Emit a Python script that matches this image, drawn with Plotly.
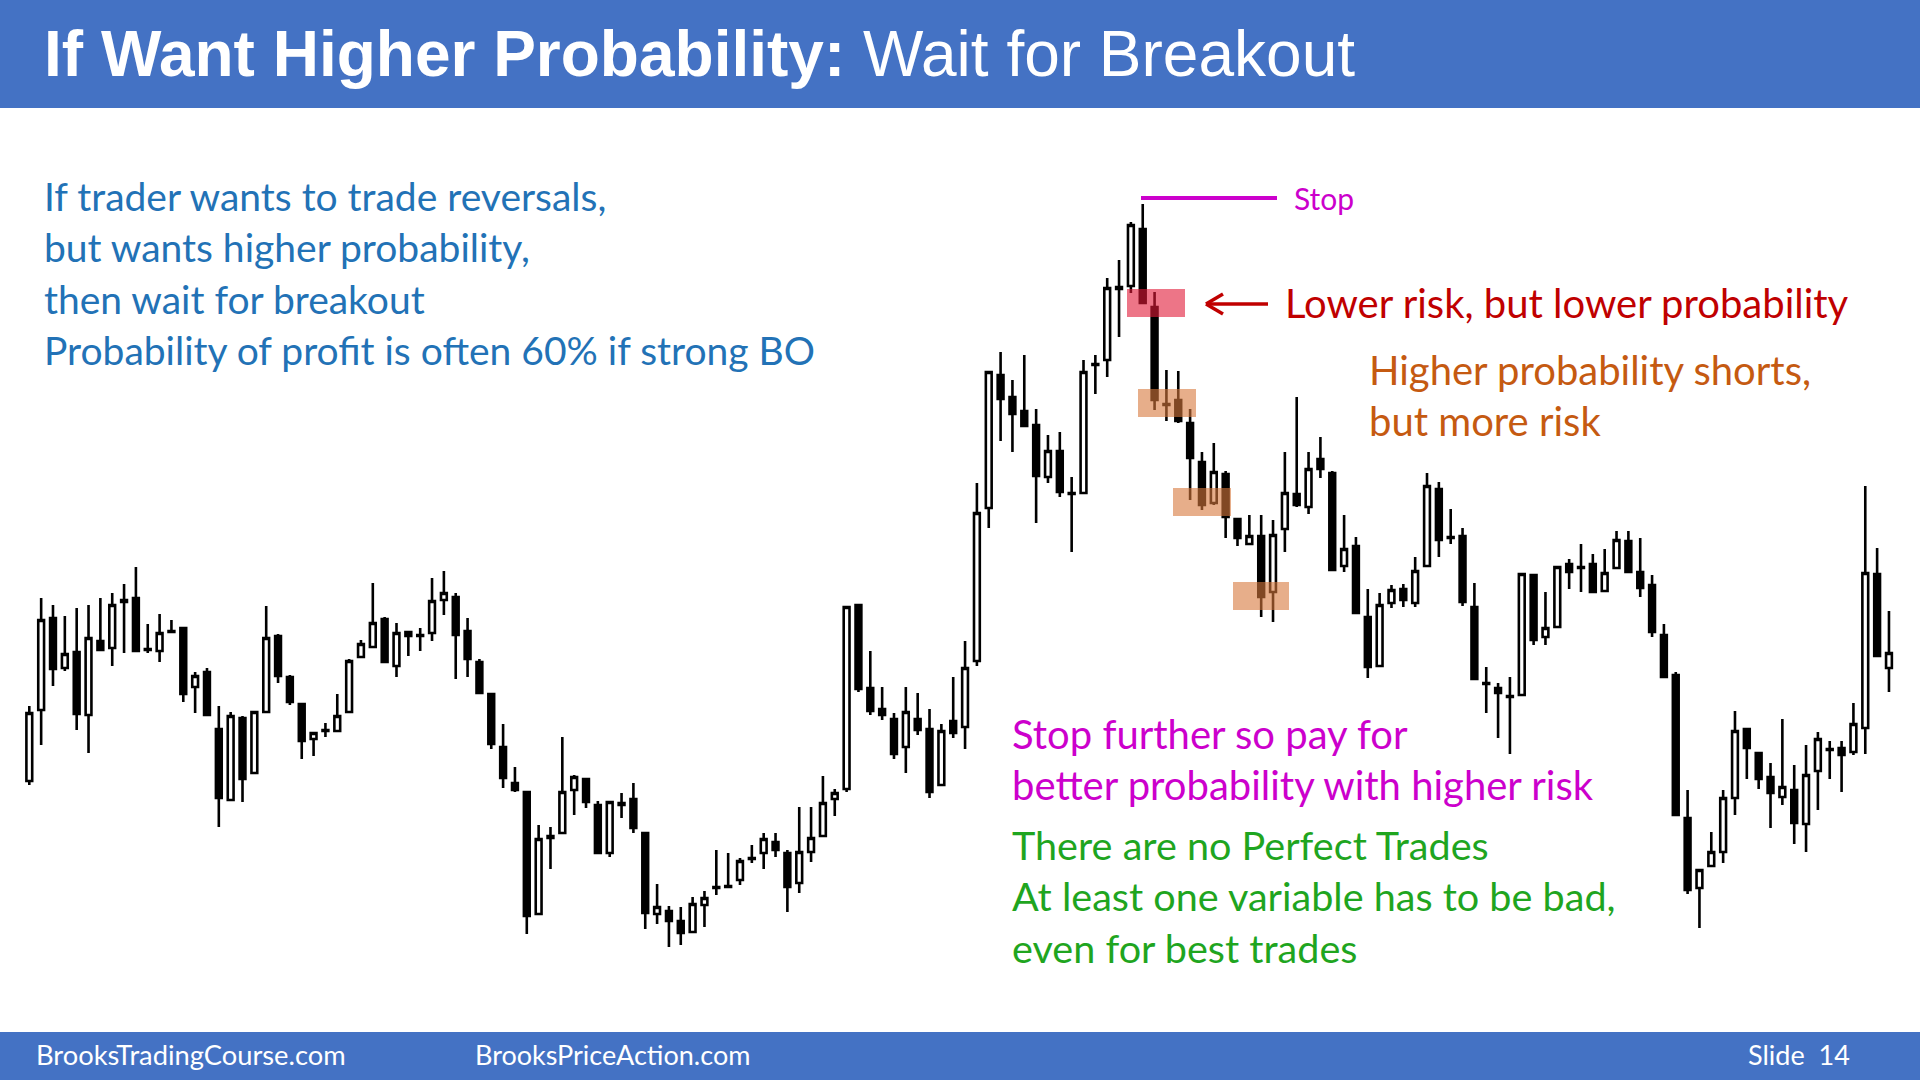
import plotly.graph_objects as go

# ---- candle data (index, open, high, low, close); price units arbitrary ----
opens = [219,290,382,332,348,285,359,352,400,402,351,349,369,372,313,328,271,200,282,227,
         288,364,323,296,261,270,269,288,343,353,381,334,368,365,367,400,403,369,338,306,
         253,217,208,86,164,167,210,221,195,147,197,201,167,86,89,79,68,95,113,114,
         120,142,147,158,147,117,148,164,201,211,395,312,291,281,253,281,271,215,279,273,
         339,492,625,603,589,575,523,549,507,507,636,640,713,714,771,693,596,600,577,538,
         497,526,481,456,464,408,471,506,493,541,527,434,454,383,334,397,411,397,434,511,
         463,464,393,317,312,304,305,425,363,373,436,433,436,409,432,459,428,415,365,325,
         182,112,134,148,202,271,247,223,203,210,176,229,251,252,248,272,426,332]
highs = [294,402,395,384,392,395,402,407,416,433,376,386,380,372,328,332,294,288,284,288,
         394,366,325,297,267,277,306,341,360,417,383,377,368,372,422,429,407,382,341,307,
         276,233,208,175,173,263,225,222,199,198,207,217,167,116,94,93,103,109,150,147,
         142,155,167,167,150,193,193,224,211,393,395,349,313,287,313,307,291,276,323,359,
         517,628,648,620,645,591,565,568,523,640,645,722,740,778,796,708,630,629,591,548,
         557,529,481,485,485,480,548,603,548,563,529,485,463,411,407,415,416,443,527,518,
         491,472,417,333,317,323,426,425,408,433,441,456,446,451,469,469,462,425,376,328,
         210,130,168,210,289,272,247,237,281,235,255,268,259,259,297,514,452,389]
lows = [215,255,314,329,270,247,349,334,347,349,347,338,367,298,287,285,173,200,198,227,
        288,317,295,241,244,263,269,288,343,353,338,323,344,349,359,385,321,323,306,251,
        212,208,66,86,131,167,185,192,147,143,182,167,71,76,53,55,68,73,105,113,
        115,137,131,143,88,107,138,164,184,208,308,285,280,241,227,265,202,215,262,251,
        334,472,559,548,574,477,517,503,448,507,606,623,663,707,697,590,579,577,500,490,
        495,462,454,456,383,378,448,493,486,522,430,428,387,322,334,392,393,393,434,443,
        456,394,321,287,262,246,305,355,355,373,411,408,408,409,432,428,403,363,323,185,
        106,72,134,137,185,221,211,172,195,156,148,190,221,208,245,246,344,308]
closes = [287,380,331,346,286,362,350,395,398,349,350,367,368,306,324,285,202,284,221,288,
          362,324,298,259,267,269,284,339,356,377,338,367,364,364,399,407,365,341,307,256,
          222,210,84,161,162,208,223,198,147,198,195,172,87,93,79,67,96,102,112,113,
          139,141,161,150,113,148,162,197,207,393,311,289,285,246,288,270,208,269,267,332,
          487,628,601,586,574,524,549,508,506,628,635,712,711,775,697,600,595,579,542,495,
          528,483,462,464,403,465,507,495,531,531,430,451,387,333,395,410,400,429,514,460,
          462,398,321,316,307,303,426,360,372,433,428,432,408,427,460,428,412,368,323,185,
          110,130,148,202,269,252,221,207,213,177,225,261,250,245,276,427,344,347]
bars = list(range(len(opens)))

# ---- texts ----
title_bold = "If Want Higher Probability:"
title_rest = " Wait for Breakout"
blue_lines = ["If trader wants to trade reversals,",
              "but wants higher probability,",
              "then wait for breakout",
              "Probability of profit is often 60% if strong BO"]
orange_lines = ["Higher probability shorts,", "but more risk"]
magenta_lines = ["Stop further so pay for", "better probability with higher risk"]
green_lines = ["There are no Perfect Trades",
               "At least one variable has to be bad,",
               "even for best trades"]
red_label = "Lower risk, but lower probability"
stop_label = "Stop"
footer_left = "BrooksTradingCourse.com"
footer_mid = "BrooksPriceAction.com"
footer_right = "Slide  14"

W, H = 1920, 1080
X0 = 29.3
DX = 11.845


def px(x):
    return x / W


def py(y):
    return 1 - y / H


def dx(x):
    return (x - X0) / DX


def dy(y):
    return 1000 - y


fig = go.Figure()
fig.add_trace(go.Candlestick(
    x=bars, open=opens, high=highs, low=lows, close=closes,
    increasing=dict(line=dict(color="black", width=2.6), fillcolor="white"),
    decreasing=dict(line=dict(color="black", width=2.6), fillcolor="black"),
    whiskerwidth=0, showlegend=False, hoverinfo="skip"))

BODY = "Lato"
shapes = []
# header / footer bands
shapes.append(dict(type="rect", xref="paper", yref="paper", x0=0, x1=1, y0=py(108), y1=1,
                   fillcolor="#4472C4", line=dict(width=0), layer="below"))
shapes.append(dict(type="rect", xref="paper", yref="paper", x0=0, x1=1, y0=0, y1=py(1032),
                   fillcolor="#4472C4", line=dict(width=0), layer="below"))
# highlight zones (data coords)
shapes.append(dict(type="rect", xref="x", yref="y", x0=dx(1127), x1=dx(1185), y0=dy(317), y1=dy(289),
                   fillcolor="rgba(225,25,55,0.6)", line=dict(width=0), layer="above"))
for (xa, xb, ya, yb) in [(1138, 1196, 389, 417), (1173, 1231, 488, 516), (1233, 1289, 582, 610)]:
    shapes.append(dict(type="rect", xref="x", yref="y", x0=dx(xa), x1=dx(xb), y0=dy(yb), y1=dy(ya),
                       fillcolor="rgba(215,120,60,0.6)", line=dict(width=0), layer="above"))
# stop line
shapes.append(dict(type="line", xref="x", yref="y", x0=dx(1141), x1=dx(1277), y0=dy(198), y1=dy(198),
                   line=dict(color="#CC00CC", width=4)))
# red arrow
for (xa, ya, xb, yb) in [(1206, 304, 1268, 304), (1206, 304, 1223, 294), (1206, 304, 1223, 314)]:
    shapes.append(dict(type="line", xref="paper", yref="paper", x0=px(xa), y0=py(ya), x1=px(xb), y1=py(yb),
                       line=dict(color="#C00000", width=3.5)))

ann = []


def txt(s, x, y, size, color, family=BODY, xanchor="left"):
    ann.append(dict(text=s, x=px(x), y=py(y), xref="paper", yref="paper", showarrow=False,
                    xanchor=xanchor, yanchor="middle", font=dict(family=family, size=size, color=color)))


txt("<b>" + title_bold + "</b>" + title_rest, 42, 54, 64, "white", family="Liberation Sans")
for i, s in enumerate(blue_lines):
    txt(s, 42, 196 + i * 51.4, 39, "#2272B6")
txt(stop_label, 1292, 198, 30, "#CC00CC")
txt(red_label, 1283, 303, 40, "#C00000")
for i, s in enumerate(orange_lines):
    txt(s, 1367, 370 + i * 51.5, 40, "#C55A11")
for i, s in enumerate(magenta_lines):
    txt(s, 1010, 734 + i * 50.5, 40, "#CC00CC")
for i, s in enumerate(green_lines):
    txt(s, 1010, 844 + i * 51.5, 39.6, "#1FA51F")
txt(footer_left, 34, 1054, 27.3, "white")
txt(footer_mid, 473, 1054, 27, "white")
txt(footer_right, 1852, 1054, 27, "white", xanchor="right")

fig.update_layout(
    width=W, height=H, margin=dict(l=0, r=0, t=0, b=0),
    paper_bgcolor="white", plot_bgcolor="white",
    shapes=shapes, annotations=ann,
    xaxis=dict(range=[dx(0), dx(W)], visible=False, rangeslider=dict(visible=False), fixedrange=True),
    yaxis=dict(range=[dy(H), dy(0)], visible=False, fixedrange=True),
    showlegend=False,
)
fig.write_html("out.html")
